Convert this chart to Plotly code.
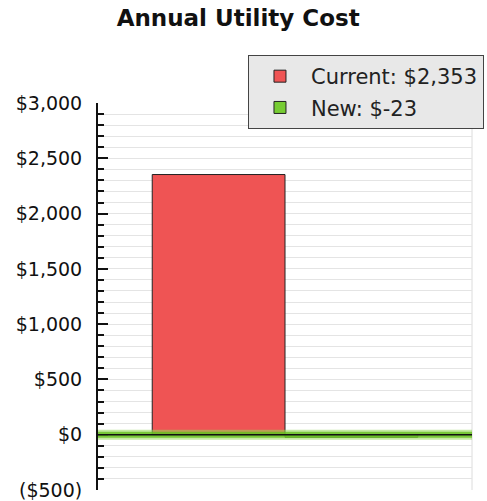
import plotly.graph_objects as go

categories = ["Annual Utility Cost"]
series_names = ["Current: $2,353", "New: $-23"]
current_values = [2353]
new_values = [-23]
tick_values = [-500, 0, 500, 1000, 1500, 2000, 2500, 3000]
tick_labels = ["($500)", "$0", "$500", "$1,000", "$1,500", "$2,000", "$2,500", "$3,000"]

fig = go.Figure()
fig.add_trace(go.Bar(x=categories, y=current_values, name=series_names[0], legendgroup="a",
                     marker=dict(color="#ef5454", line=dict(color="#222222", width=1))))
fig.add_trace(go.Bar(x=categories, y=new_values, name=series_names[1], legendgroup="b",
                     marker=dict(color="#77cc33", line=dict(color="#222222", width=1))))

# green glow band and black base line at zero
fig.add_shape(type="line", xref="paper", x0=0, x1=1, yref="y", y0=0, y1=0,
              line=dict(color="rgba(150,215,90,0.55)", width=10), layer="above")
fig.add_shape(type="line", xref="paper", x0=0, x1=1, yref="y", y0=0, y1=0,
              line=dict(color="rgba(100,190,30,0.8)", width=6), layer="above")
fig.add_shape(type="line", xref="paper", x0=0, x1=1, yref="y", y0=0, y1=0,
              line=dict(color="#111111", width=1.5), layer="above")
# right plot border
fig.add_shape(type="line", xref="paper", x0=1, x1=1, yref="paper", y0=0, y1=1,
              line=dict(color="#dcdcdc", width=1), layer="below")
# legend drop shadow (thin strip under the legend box)
fig.add_shape(type="rect", xref="paper", yref="paper", x0=0.41, x1=1.03, y0=0.934, y1=0.96,
              line=dict(width=0), fillcolor="#666666", layer="below")

fig.update_layout(
    width=487, height=501,
    margin=dict(l=98, r=15, t=103, b=11, autoexpand=False),
    paper_bgcolor="white", plot_bgcolor="white",
    font=dict(family="DejaVu Sans", size=19, color="#111111"),
    title=dict(text="<b>Annual Utility Cost</b>", x=0.489, xanchor="center",
               y=0.964, yanchor="middle", font=dict(size=23, color="#111111")),
    barmode="group", bargap=0.29, bargroupgap=0,
    showlegend=True,
    legend=dict(x=0.401, y=1.124, xanchor="left", yanchor="top",
                bgcolor="#e8e8e8", bordercolor="#444444", borderwidth=1,
                font=dict(family="DejaVu Sans", size=21, color="#222222"),
                itemwidth=52, traceorder="grouped", tracegroupgap=1),
    xaxis=dict(showticklabels=False, ticks="", showgrid=False, showline=False,
               zeroline=False),
    yaxis=dict(range=[-500, 3000], tickvals=tick_values, ticktext=tick_labels,
               ticks="inside", ticklen=10, tickwidth=2, tickcolor="#111111",
               showline=True, linecolor="#111111", linewidth=2,
               showgrid=True, gridcolor="#e4e4e4", gridwidth=1, zeroline=False,
               ticklabelstandoff=10,
               minor=dict(dtick=100, ticks="inside", ticklen=6, tickwidth=2,
                          tickcolor="#111111", showgrid=True, gridcolor="#e4e4e4")),
)

fig.write_html("out.html", config={"displayModeBar": False},
               post_script="document.body.style.margin='0';")
